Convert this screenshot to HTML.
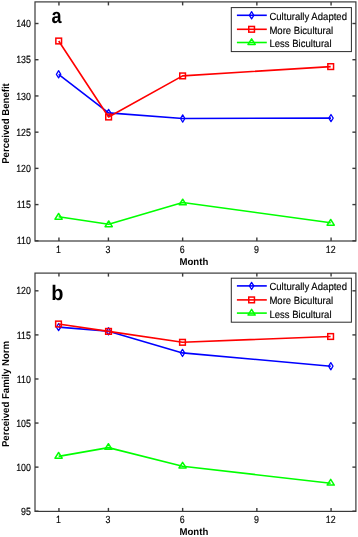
<!DOCTYPE html>
<html><head><meta charset="utf-8"><style>
html,body{margin:0;padding:0;background:#fff;width:358px;height:537px;overflow:hidden}
svg{display:block;will-change:transform}
text{font-family:"Liberation Sans",sans-serif;fill:#000;text-rendering:geometricPrecision}
.t{font-size:10.4px;fill:#000;stroke:#000;stroke-width:0.15px}
.lg{font-size:10.4px;fill:#000;stroke:#000;stroke-width:0.15px}
.xl{font-size:10.0px;font-weight:bold}
.pl{font-size:21px;font-weight:bold}
</style></head><body>
<svg width="358" height="537" viewBox="0 0 358 537">
<rect width="358" height="537" fill="#fff"/>
<rect x="35.0" y="1.9" width="320.90" height="239.10" fill="#fff" stroke="#3a3a3a" stroke-width="1.2"/>
<line x1="58.94" y1="241.0" x2="58.94" y2="237.5" stroke="#3a3a3a" stroke-width="1.4"/><line x1="58.94" y1="1.9" x2="58.94" y2="5.4" stroke="#3a3a3a" stroke-width="1.4"/>
<text transform="translate(58.54,252.80) scale(0.85,1)" text-anchor="middle" class="t">1</text>
<line x1="108.42" y1="241.0" x2="108.42" y2="237.5" stroke="#3a3a3a" stroke-width="1.4"/><line x1="108.42" y1="1.9" x2="108.42" y2="5.4" stroke="#3a3a3a" stroke-width="1.4"/>
<text transform="translate(108.02,252.80) scale(0.85,1)" text-anchor="middle" class="t">3</text>
<line x1="182.64" y1="241.0" x2="182.64" y2="237.5" stroke="#3a3a3a" stroke-width="1.4"/><line x1="182.64" y1="1.9" x2="182.64" y2="5.4" stroke="#3a3a3a" stroke-width="1.4"/>
<text transform="translate(182.24,252.80) scale(0.85,1)" text-anchor="middle" class="t">6</text>
<line x1="256.86" y1="241.0" x2="256.86" y2="237.5" stroke="#3a3a3a" stroke-width="1.4"/><line x1="256.86" y1="1.9" x2="256.86" y2="5.4" stroke="#3a3a3a" stroke-width="1.4"/>
<text transform="translate(256.46,252.80) scale(0.85,1)" text-anchor="middle" class="t">9</text>
<line x1="331.08" y1="241.0" x2="331.08" y2="237.5" stroke="#3a3a3a" stroke-width="1.4"/><line x1="331.08" y1="1.9" x2="331.08" y2="5.4" stroke="#3a3a3a" stroke-width="1.4"/>
<text transform="translate(330.68,252.80) scale(0.85,1)" text-anchor="middle" class="t">12</text>
<line x1="35.0" y1="240.80" x2="38.5" y2="240.80" stroke="#3a3a3a" stroke-width="1.4"/><line x1="355.9" y1="240.80" x2="352.4" y2="240.80" stroke="#3a3a3a" stroke-width="1.4"/>
<text transform="translate(30.90,244.40) scale(0.85,1)" text-anchor="end" class="t">110</text>
<line x1="35.0" y1="204.59" x2="38.5" y2="204.59" stroke="#3a3a3a" stroke-width="1.4"/><line x1="355.9" y1="204.59" x2="352.4" y2="204.59" stroke="#3a3a3a" stroke-width="1.4"/>
<text transform="translate(30.90,208.19) scale(0.85,1)" text-anchor="end" class="t">115</text>
<line x1="35.0" y1="168.37" x2="38.5" y2="168.37" stroke="#3a3a3a" stroke-width="1.4"/><line x1="355.9" y1="168.37" x2="352.4" y2="168.37" stroke="#3a3a3a" stroke-width="1.4"/>
<text transform="translate(30.90,171.97) scale(0.85,1)" text-anchor="end" class="t">120</text>
<line x1="35.0" y1="132.16" x2="38.5" y2="132.16" stroke="#3a3a3a" stroke-width="1.4"/><line x1="355.9" y1="132.16" x2="352.4" y2="132.16" stroke="#3a3a3a" stroke-width="1.4"/>
<text transform="translate(30.90,135.75) scale(0.85,1)" text-anchor="end" class="t">125</text>
<line x1="35.0" y1="95.94" x2="38.5" y2="95.94" stroke="#3a3a3a" stroke-width="1.4"/><line x1="355.9" y1="95.94" x2="352.4" y2="95.94" stroke="#3a3a3a" stroke-width="1.4"/>
<text transform="translate(30.90,99.54) scale(0.85,1)" text-anchor="end" class="t">130</text>
<line x1="35.0" y1="59.72" x2="38.5" y2="59.72" stroke="#3a3a3a" stroke-width="1.4"/><line x1="355.9" y1="59.72" x2="352.4" y2="59.72" stroke="#3a3a3a" stroke-width="1.4"/>
<text transform="translate(30.90,63.32) scale(0.85,1)" text-anchor="end" class="t">135</text>
<line x1="35.0" y1="23.51" x2="38.5" y2="23.51" stroke="#3a3a3a" stroke-width="1.4"/><line x1="355.9" y1="23.51" x2="352.4" y2="23.51" stroke="#3a3a3a" stroke-width="1.4"/>
<text transform="translate(30.90,27.11) scale(0.85,1)" text-anchor="end" class="t">140</text>
<path d="M58.60 74.30 L108.60 112.90 L182.70 118.50 L331.00 118.10" fill="none" stroke="#0000ff" stroke-width="1.6" stroke-linejoin="round"/>
<path d="M58.60 70.70L60.80 74.30L58.60 77.90L56.40 74.30Z" fill="none" stroke="#0000ff" stroke-width="1.25" stroke-linejoin="round"/>
<path d="M108.60 109.30L110.80 112.90L108.60 116.50L106.40 112.90Z" fill="none" stroke="#0000ff" stroke-width="1.25" stroke-linejoin="round"/>
<path d="M182.70 114.90L184.90 118.50L182.70 122.10L180.50 118.50Z" fill="none" stroke="#0000ff" stroke-width="1.25" stroke-linejoin="round"/>
<path d="M331.00 114.50L333.20 118.10L331.00 121.70L328.80 118.10Z" fill="none" stroke="#0000ff" stroke-width="1.25" stroke-linejoin="round"/>
<path d="M58.70 41.00 L108.60 117.00 L182.60 75.90 L330.70 66.60" fill="none" stroke="#ff0000" stroke-width="1.6" stroke-linejoin="round"/>
<rect x="55.85" y="38.15" width="5.70" height="5.70" fill="none" stroke="#ff0000" stroke-width="1.5"/>
<rect x="105.75" y="114.15" width="5.70" height="5.70" fill="none" stroke="#ff0000" stroke-width="1.5"/>
<rect x="179.75" y="73.05" width="5.70" height="5.70" fill="none" stroke="#ff0000" stroke-width="1.5"/>
<rect x="327.85" y="63.75" width="5.70" height="5.70" fill="none" stroke="#ff0000" stroke-width="1.5"/>
<path d="M58.60 216.80 L108.70 224.30 L182.70 202.50 L330.70 222.80" fill="none" stroke="#00ff00" stroke-width="1.6" stroke-linejoin="round"/>
<path d="M58.60 213.50L62.20 219.15L55.00 219.15Z" fill="none" stroke="#00ff00" stroke-width="1.5" stroke-linejoin="round"/>
<path d="M108.70 221.00L112.30 226.65L105.10 226.65Z" fill="none" stroke="#00ff00" stroke-width="1.5" stroke-linejoin="round"/>
<path d="M182.70 199.20L186.30 204.85L179.10 204.85Z" fill="none" stroke="#00ff00" stroke-width="1.5" stroke-linejoin="round"/>
<path d="M330.70 219.50L334.30 225.15L327.10 225.15Z" fill="none" stroke="#00ff00" stroke-width="1.5" stroke-linejoin="round"/>
<rect x="231.3" y="7.6" width="120.1" height="44" fill="#fff" stroke="#2a2a2a" stroke-width="1"/>
<line x1="236.9" y1="15.30" x2="266.8" y2="15.30" stroke="#0000ff" stroke-width="1.6"/><path d="M251.60 11.70L253.80 15.30L251.60 18.90L249.40 15.30Z" fill="none" stroke="#0000ff" stroke-width="1.25" stroke-linejoin="round"/>
<text transform="translate(269.40,19.80) scale(0.92,1)" class="lg">Culturally Adapted</text>
<line x1="236.9" y1="29.30" x2="266.8" y2="29.30" stroke="#ff0000" stroke-width="1.6"/><rect x="248.75" y="26.45" width="5.70" height="5.70" fill="none" stroke="#ff0000" stroke-width="1.5"/>
<text transform="translate(269.40,33.80) scale(0.92,1)" class="lg">More Bicultural</text>
<line x1="236.9" y1="42.50" x2="266.8" y2="42.50" stroke="#00ff00" stroke-width="1.6"/><path d="M251.60 38.80L255.20 44.45L248.00 44.45Z" fill="none" stroke="#00ff00" stroke-width="1.5" stroke-linejoin="round"/>
<text transform="translate(269.40,47.00) scale(0.92,1)" class="lg">Less Bicultural</text>
<rect x="35.0" y="273.1" width="320.90" height="238.30" fill="#fff" stroke="#3a3a3a" stroke-width="1.2"/>
<line x1="58.94" y1="511.4" x2="58.94" y2="507.9" stroke="#3a3a3a" stroke-width="1.4"/><line x1="58.94" y1="273.1" x2="58.94" y2="276.6" stroke="#3a3a3a" stroke-width="1.4"/>
<text transform="translate(58.54,523.20) scale(0.85,1)" text-anchor="middle" class="t">1</text>
<line x1="108.42" y1="511.4" x2="108.42" y2="507.9" stroke="#3a3a3a" stroke-width="1.4"/><line x1="108.42" y1="273.1" x2="108.42" y2="276.6" stroke="#3a3a3a" stroke-width="1.4"/>
<text transform="translate(108.02,523.20) scale(0.85,1)" text-anchor="middle" class="t">3</text>
<line x1="182.64" y1="511.4" x2="182.64" y2="507.9" stroke="#3a3a3a" stroke-width="1.4"/><line x1="182.64" y1="273.1" x2="182.64" y2="276.6" stroke="#3a3a3a" stroke-width="1.4"/>
<text transform="translate(182.24,523.20) scale(0.85,1)" text-anchor="middle" class="t">6</text>
<line x1="256.86" y1="511.4" x2="256.86" y2="507.9" stroke="#3a3a3a" stroke-width="1.4"/><line x1="256.86" y1="273.1" x2="256.86" y2="276.6" stroke="#3a3a3a" stroke-width="1.4"/>
<text transform="translate(256.46,523.20) scale(0.85,1)" text-anchor="middle" class="t">9</text>
<line x1="331.08" y1="511.4" x2="331.08" y2="507.9" stroke="#3a3a3a" stroke-width="1.4"/><line x1="331.08" y1="273.1" x2="331.08" y2="276.6" stroke="#3a3a3a" stroke-width="1.4"/>
<text transform="translate(330.68,523.20) scale(0.85,1)" text-anchor="middle" class="t">12</text>
<line x1="35.0" y1="511.20" x2="38.5" y2="511.20" stroke="#3a3a3a" stroke-width="1.4"/><line x1="355.9" y1="511.20" x2="352.4" y2="511.20" stroke="#3a3a3a" stroke-width="1.4"/>
<text transform="translate(30.90,514.80) scale(0.85,1)" text-anchor="end" class="t">95</text>
<line x1="35.0" y1="467.12" x2="38.5" y2="467.12" stroke="#3a3a3a" stroke-width="1.4"/><line x1="355.9" y1="467.12" x2="352.4" y2="467.12" stroke="#3a3a3a" stroke-width="1.4"/>
<text transform="translate(30.90,470.73) scale(0.85,1)" text-anchor="end" class="t">100</text>
<line x1="35.0" y1="423.05" x2="38.5" y2="423.05" stroke="#3a3a3a" stroke-width="1.4"/><line x1="355.9" y1="423.05" x2="352.4" y2="423.05" stroke="#3a3a3a" stroke-width="1.4"/>
<text transform="translate(30.90,426.65) scale(0.85,1)" text-anchor="end" class="t">105</text>
<line x1="35.0" y1="378.98" x2="38.5" y2="378.98" stroke="#3a3a3a" stroke-width="1.4"/><line x1="355.9" y1="378.98" x2="352.4" y2="378.98" stroke="#3a3a3a" stroke-width="1.4"/>
<text transform="translate(30.90,382.58) scale(0.85,1)" text-anchor="end" class="t">110</text>
<line x1="35.0" y1="334.90" x2="38.5" y2="334.90" stroke="#3a3a3a" stroke-width="1.4"/><line x1="355.9" y1="334.90" x2="352.4" y2="334.90" stroke="#3a3a3a" stroke-width="1.4"/>
<text transform="translate(30.90,338.50) scale(0.85,1)" text-anchor="end" class="t">115</text>
<line x1="35.0" y1="290.82" x2="38.5" y2="290.82" stroke="#3a3a3a" stroke-width="1.4"/><line x1="355.9" y1="290.82" x2="352.4" y2="290.82" stroke="#3a3a3a" stroke-width="1.4"/>
<text transform="translate(30.90,294.43) scale(0.85,1)" text-anchor="end" class="t">120</text>
<path d="M58.60 327.10 L108.50 331.30 L182.50 352.90 L330.80 366.20" fill="none" stroke="#0000ff" stroke-width="1.6" stroke-linejoin="round"/>
<path d="M58.60 323.50L60.80 327.10L58.60 330.70L56.40 327.10Z" fill="none" stroke="#0000ff" stroke-width="1.25" stroke-linejoin="round"/>
<path d="M108.50 327.70L110.70 331.30L108.50 334.90L106.30 331.30Z" fill="none" stroke="#0000ff" stroke-width="1.25" stroke-linejoin="round"/>
<path d="M182.50 349.30L184.70 352.90L182.50 356.50L180.30 352.90Z" fill="none" stroke="#0000ff" stroke-width="1.25" stroke-linejoin="round"/>
<path d="M330.80 362.60L333.00 366.20L330.80 369.80L328.60 366.20Z" fill="none" stroke="#0000ff" stroke-width="1.25" stroke-linejoin="round"/>
<path d="M58.50 324.00 L108.50 331.40 L182.50 342.30 L330.60 336.50" fill="none" stroke="#ff0000" stroke-width="1.6" stroke-linejoin="round"/>
<rect x="55.65" y="321.15" width="5.70" height="5.70" fill="none" stroke="#ff0000" stroke-width="1.5"/>
<rect x="105.65" y="328.55" width="5.70" height="5.70" fill="none" stroke="#ff0000" stroke-width="1.5"/>
<rect x="179.65" y="339.45" width="5.70" height="5.70" fill="none" stroke="#ff0000" stroke-width="1.5"/>
<rect x="327.75" y="333.65" width="5.70" height="5.70" fill="none" stroke="#ff0000" stroke-width="1.5"/>
<path d="M58.60 456.40 L108.40 447.60 L182.60 466.20 L330.70 483.30" fill="none" stroke="#00ff00" stroke-width="1.6" stroke-linejoin="round"/>
<path d="M58.60 452.50L62.20 458.15L55.00 458.15Z" fill="none" stroke="#00ff00" stroke-width="1.5" stroke-linejoin="round"/>
<path d="M108.40 443.70L112.00 449.35L104.80 449.35Z" fill="none" stroke="#00ff00" stroke-width="1.5" stroke-linejoin="round"/>
<path d="M182.60 462.30L186.20 467.95L179.00 467.95Z" fill="none" stroke="#00ff00" stroke-width="1.5" stroke-linejoin="round"/>
<path d="M330.70 479.40L334.30 485.05L327.10 485.05Z" fill="none" stroke="#00ff00" stroke-width="1.5" stroke-linejoin="round"/>
<rect x="231.3" y="278.2" width="120.1" height="44" fill="#fff" stroke="#2a2a2a" stroke-width="1"/>
<line x1="236.9" y1="285.90" x2="266.8" y2="285.90" stroke="#0000ff" stroke-width="1.6"/><path d="M251.60 282.30L253.80 285.90L251.60 289.50L249.40 285.90Z" fill="none" stroke="#0000ff" stroke-width="1.25" stroke-linejoin="round"/>
<text transform="translate(269.40,290.40) scale(0.92,1)" class="lg">Culturally Adapted</text>
<line x1="236.9" y1="299.90" x2="266.8" y2="299.90" stroke="#ff0000" stroke-width="1.6"/><rect x="248.75" y="297.05" width="5.70" height="5.70" fill="none" stroke="#ff0000" stroke-width="1.5"/>
<text transform="translate(269.40,304.40) scale(0.92,1)" class="lg">More Bicultural</text>
<line x1="236.9" y1="313.10" x2="266.8" y2="313.10" stroke="#00ff00" stroke-width="1.6"/><path d="M251.60 309.40L255.20 315.05L248.00 315.05Z" fill="none" stroke="#00ff00" stroke-width="1.5" stroke-linejoin="round"/>
<text transform="translate(269.40,317.60) scale(0.92,1)" class="lg">Less Bicultural</text>
<text transform="translate(56.65,22.60) scale(0.86,1)" text-anchor="middle" class="pl">a</text><text transform="translate(57.30,300.00) scale(0.95,1)" text-anchor="middle" class="pl">b</text><text transform="translate(193.90,264.60) scale(0.96,1)" text-anchor="middle" class="xl">Month</text><text transform="translate(193.90,535.10) scale(0.96,1)" text-anchor="middle" class="xl">Month</text><text transform="translate(8.90,123.50) rotate(-90) scale(0.96,1)" text-anchor="middle" class="xl">Perceived Benefit</text><text transform="translate(8.90,394.00) rotate(-90) scale(0.96,1)" text-anchor="middle" class="xl">Perceived Family Norm</text>
</svg>
</body></html>
